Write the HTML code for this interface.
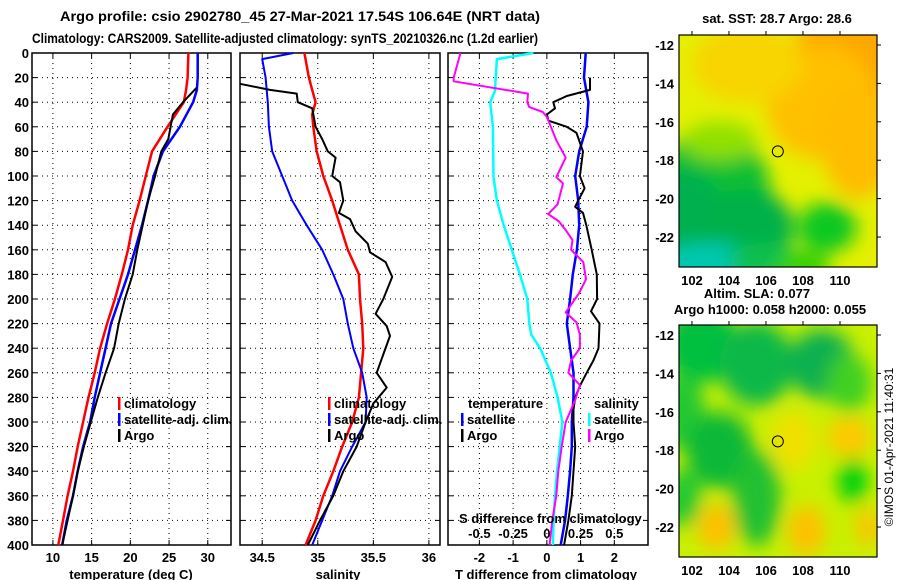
<!DOCTYPE html>
<html><head><meta charset="utf-8"><style>
html,body{margin:0;padding:0;background:#fff;}
svg{display:block;font-family:"Liberation Sans",sans-serif;font-weight:bold;}
</style></head><body>
<svg id="chart" width="900" height="580" viewBox="0 0 900 580" xmlns="http://www.w3.org/2000/svg">
<defs>
<filter id="blur1" x="-50%" y="-50%" width="200%" height="200%"><feGaussianBlur stdDeviation="9"/></filter>
<clipPath id="clipTop"><rect x="679" y="35" width="198" height="232"/></clipPath>
<clipPath id="clipBot"><rect x="679" y="325" width="198" height="232"/></clipPath>
</defs>
<text x="60" y="21" font-size="14" textLength="480" lengthAdjust="spacingAndGlyphs">Argo profile: csio 2902780_45 27-Mar-2021 17.54S 106.64E (NRT data)</text>
<text x="32" y="43" font-size="13.5" textLength="506" lengthAdjust="spacingAndGlyphs">Climatology: CARS2009. Satellite-adjusted climatology: synTS_20210326.nc (1.2d earlier)</text>
<g id="plots"></g>
</svg>
<script>
// ---- data (depth in m) ----
const depthTicks = [0,20,40,60,80,100,120,140,160,180,200,220,240,260,280,300,320,340,360,380,400];
// Temperature panel
const tClimDepth = [0,20,30,40,60,80,100,120,140,160,180,200,220,240,260,280,300,320,340,360,380,400];
const tClimVal   = [27.5,27.4,27.2,26.9,24.8,22.8,22.0,21.2,20.3,19.7,18.9,18.0,17.0,16.1,15.4,14.6,13.9,13.2,12.6,11.9,11.3,10.7];
const tSatDepth  = [0,20,30,40,60,80,100,120,140,160,180,200,220,240,260,280,300,320,340,360,380,400];
const tSatVal    = [28.7,28.7,28.6,28.1,26.4,24.2,23.0,22.3,21.5,20.6,19.7,18.6,17.5,16.8,16.1,15.4,14.8,13.9,13.2,12.6,11.8,11.2];
const tArgoDepth = [28,40,50,60,70,80,100,120,140,160,180,200,220,240,260,280,300,320,340,360,380,400];
const tArgoVal   = [28.6,26.8,25.5,25.2,24.9,24.0,23.2,22.3,21.6,20.9,20.3,19.3,18.5,17.9,16.8,15.8,14.9,14.0,13.2,12.6,11.9,11.2];
const tTicks = [10,15,20,25,30];
// Salinity panel
const sClimDepth = [0,20,30,40,50,60,80,100,120,140,160,180,200,220,240,260,280,300,320,340,360,380,400];
const sClimVal   = [34.88,34.92,34.95,34.98,34.95,34.96,34.99,35.05,35.13,35.20,35.27,35.37,35.38,35.40,35.41,35.39,35.37,35.31,35.22,35.14,35.05,34.98,34.89];
const sSatDepth  = [0,5,20,40,60,80,100,120,140,160,180,200,220,240,260,280,300,320,340,360,380,400];
const sSatVal    = [34.78,34.50,34.53,34.55,34.56,34.59,34.68,34.77,34.90,35.04,35.14,35.23,35.27,35.32,35.40,35.44,35.43,35.31,35.20,35.13,35.04,34.95];
const sArgoDepth = [25,30,33,40,45,60,70,80,85,100,105,120,130,135,145,155,162,170,182,200,212,222,230,245,260,272,285,300,320,340,360,380,400];
const sArgoVal   = [34.30,34.57,34.81,34.82,34.95,34.98,35.04,35.09,35.16,35.13,35.20,35.23,35.19,35.29,35.34,35.45,35.47,35.61,35.67,35.59,35.52,35.62,35.65,35.59,35.53,35.62,35.50,35.43,35.35,35.23,35.14,35.02,34.91];
const sTicks = [34.5,35,35.5,36];
// Difference panel
const dTSatDepth = [0,20,40,60,80,100,120,140,160,180,200,220,240,260,280,300,320,340,360,380,400];
const dTSatVal   = [1.15,1.10,1.23,1.18,0.96,0.84,0.93,0.96,0.89,0.77,0.69,0.59,0.69,0.79,0.79,0.74,0.74,0.69,0.62,0.54,0.41];
const dTArgoDepth= [20,30,35,40,45,50,55,60,65,80,100,110,120,125,130,140,160,180,200,210,220,240,250,260,270,280,290,300,320,340,360,380,400];
const dTArgoVal  = [1.28,1.28,0.59,0.19,0.24,0.0,0.05,0.59,0.88,1.07,0.98,1.12,0.93,0.84,1.07,1.17,1.33,1.48,1.49,1.31,1.56,1.53,1.38,1.18,0.99,0.84,0.79,0.79,0.84,0.79,0.74,0.64,0.51];
const dSSatDepth = [0,5,31,40,60,101,120,140,160,180,200,220,229,240,260,280,300,320,340,360,380,400];
const dSSatVal   = [-0.10,-0.37,-0.385,-0.42,-0.40,-0.395,-0.37,-0.32,-0.26,-0.20,-0.145,-0.13,-0.115,-0.05,0.03,0.08,0.115,0.095,0.075,0.06,0.05,0.045];
const dSArgoDepth= [0,20,23,33,40,44,48,52,60,71,85,101,106,123,131,137,144,152,160,170,184,195,211,219,229,240,250,260,270,282,300,320,340,360,380,400];
const dSArgoVal  = [-0.64,-0.69,-0.69,-0.14,-0.145,-0.13,-0.03,0,0.03,0.07,0.14,0.07,0.12,0.08,0.01,0.09,0.14,0.19,0.18,0.27,0.29,0.24,0.14,0.22,0.245,0.245,0.18,0.16,0.245,0.21,0.14,0.11,0.085,0.07,0.04,0.02];
const dTTicks = [-2,-1,0,1,2];
const dSTicks = [-0.5,-0.25,0,0.25,0.5];
const dSTickLabels = ["-0.5","-0.25","0","0.25","0.5"];
// Maps
const lonTicks = [102,104,106,108,110];
const latTicks = [-12,-14,-16,-18,-20,-22];
const floatLon = 106.64, floatLat = -17.54;

const NS="http://www.w3.org/2000/svg";
const root=document.getElementById('plots');
function el(tag,attrs,parent,txt){const e=document.createElementNS(NS,tag);for(const k in attrs)e.setAttribute(k,attrs[k]);if(txt!==undefined)e.textContent=txt;(parent||root).appendChild(e);return e;}

const Y0=53,Y1=545;
const yDepth=d=>Y0+(d/400)*(Y1-Y0);
function linX(x0,x1,v0,v1){return v=>x0+(v-v0)/(v1-v0)*(x1-x0);}

function panel(name,x0,x1,xs,ticks,labels,showDepth){
  const g=el('g',{});
  
  
  for(const d of depthTicks){ if(d>0&&d<400){const l=el('line',{x1:x0,x2:x1,y1:yDepth(d),y2:yDepth(d),stroke:'#000','stroke-width':1,'stroke-dasharray':'1 4'},g);}
    el('line',{x1:x0,x2:x0+5,y1:yDepth(d),y2:yDepth(d),stroke:'#000'},g);
    el('line',{x1:x1-5,x2:x1,y1:yDepth(d),y2:yDepth(d),stroke:'#000'},g);
    if(showDepth){const t=el('text',{x:x0-3,y:yDepth(d)+5,'font-size':13,'text-anchor':'end'},g,String(d));}
  }
  ticks.forEach((v,i)=>{const x=xs(v);
    const l=el('line',{x1:x,x2:x,y1:Y0,y2:Y1,stroke:'#000','stroke-dasharray':'1 4'},g);
    
    
    el('line',{x1:x,x2:x,y1:Y1,y2:Y1-5,stroke:'#000'},g);el('line',{x1:x,x2:x,y1:Y0,y2:Y0+5,stroke:'#000'},g);
    const t=el('text',{x:x,y:562,'font-size':13,'text-anchor':'middle'},g,labels[i]);
    
    
  });
  const f=el('rect',{x:x0,y:Y0,width:x1-x0,height:Y1-Y0,fill:'none',stroke:'#000','stroke-width':1.5},g);
  
  
  return g;
}
function series(g,name,depths,vals,xs,color,w){
  const pts=depths.map((d,i)=>xs(vals[i]).toFixed(1)+','+yDepth(d).toFixed(1)).join(' ');
  const p=el('polyline',{points:pts,fill:'none',stroke:color,'stroke-width':w,'stroke-linejoin':'round'},g);
  
  
}
function legend(g,x,y,items){
  items.forEach((it,i)=>{
    const r=el('rect',{x:x,y:y+i*16-11,width:2.5,height:13,fill:it[1]},g);
    
    
    const t=el('text',{x:x+6,y:y+i*16,'font-size':13},g,it[0]);
    
    
  });
}
// Panel 1
const xT=linX(32,231,7.3,33.0);
const g1=panel('temperature-panel',32,231,xT,tTicks,tTicks.map(String),true);
series(g1,'temp-climatology-line',tClimDepth,tClimVal,xT,'#f00',2.5);
series(g1,'temp-satellite-line',tSatDepth,tSatVal,xT,'#00f',2.5);
series(g1,'temp-argo-line',tArgoDepth,tArgoVal,xT,'#000',2);
legend(g1,118,408,[['climatology','#f00'],['satellite-adj. clim.','#00f'],['Argo','#000']]);
let at=el('text',{x:131,y:579,'font-size':13,'text-anchor':'middle'},g1,'temperature (deg C)');


// Panel 2
const xS=linX(240,440,34.30,36.10);
const g2=panel('salinity-panel',240,440,xS,sTicks,['34.5','35','35.5','36'],false);
series(g2,'sal-climatology-line',sClimDepth,sClimVal,xS,'#f00',2.5);
series(g2,'sal-satellite-line',sSatDepth,sSatVal,xS,'#00f',2);
series(g2,'sal-argo-line',sArgoDepth,sArgoVal,xS,'#000',2);
legend(g2,328,408,[['climatology','#f00'],['satellite-adj. clim.','#00f'],['Argo','#000']]);
at=el('text',{x:338,y:579,'font-size':13,'text-anchor':'middle'},g2,'salinity');


// Panel 3
const xD=linX(448,648,-2.93,2.998);
const xDS=v=>xD(v*4);
const g3=panel('difference-panel',448,648,xD,dTTicks,dTTicks.map(String),false);
series(g3,'sal-satellite-diff-line',dSSatDepth,dSSatVal,xDS,'#0ff',2.5);
series(g3,'temp-satellite-diff-line',dTSatDepth,dTSatVal,xD,'#00f',2.5);
series(g3,'temp-argo-diff-line',dTArgoDepth,dTArgoVal,xD,'#000',2);
series(g3,'sal-argo-diff-line',dSArgoDepth,dSArgoVal,xDS,'#f0f',2);
let tt=el('text',{x:468,y:408,'font-size':13},g3,'temperature');


legend(g3,461,424,[['satellite','#00f'],['Argo','#000']]);
tt=el('text',{x:594,y:408,'font-size':13},g3,'salinity');


legend(g3,588,424,[['satellite','#0ff'],['Argo','#f0f']]);
tt=el('text',{x:459,y:523,'font-size':13},g3,'S difference from climatology');


dSTicks.forEach((v,i)=>{const t=el('text',{x:xDS(v),y:538,'font-size':13,'text-anchor':'middle'},g3,dSTickLabels[i]);
  
  });
at=el('text',{x:546,y:579,'font-size':13,'text-anchor':'middle'},g3,'T difference from climatology');



// Maps
const lonX=linX(679,877,101.3,112.0);
function mapPanel(name,top,clip,blobs,base,title,titleY){
  const g=el('g',{});
  
  
  const latY=linX(top,top+232,-11.48,-23.56);
  const c=el('g',{'clip-path':'url(#'+clip+')'},g);
  el('rect',{x:679,y:top,width:198,height:232,fill:base},c);
  const bg=el('g',{filter:'url(#blur1)'},c);
  blobs.forEach(b=>{const e=el('ellipse',{cx:lonX(b[0]),cy:latY(b[1]),rx:b[2]*18.5,ry:b[3]*19.2,fill:b[4]},bg);
    
    });
  const fr=el('rect',{x:679,y:top,width:198,height:232,fill:'none',stroke:'#000','stroke-width':1.2},g);
  
  
  lonTicks.forEach(v=>{const x=lonX(v);el('line',{x1:x,x2:x,y1:top,y2:top-4,stroke:'#000'},g);
    const t=el('text',{x:x,y:top+250,'font-size':13,'text-anchor':'middle'},g,String(v));
    
    });
  latTicks.forEach(v=>{const y=latY(v);el('line',{x1:877,x2:881,y1:y,y2:y,stroke:'#000'},g);
    const t=el('text',{x:674,y:y+5,'font-size':13,'text-anchor':'end'},g,String(v));
    
    });
  const m=el('circle',{cx:lonX(floatLon),cy:latY(floatLat),r:5.5,fill:'none',stroke:'#000','stroke-width':1},g);
  
  
  title.forEach((s,i)=>{const t=el('text',{x:s[1],y:titleY[i],'font-size':13,'text-anchor':'middle'},g,s[0]);
    
    });
  return g;
}
mapPanel('sst-map',35,'clipTop',[
  [111,-12.5,3.5,2.5,'#ffa800'],[109,-15,3,3,'#ffc000'],[111,-17,2,3,'#ffbc00'],[105,-13,3,2,'#f8d400'],
  [103,-19.5,3.2,3,'#10c030'],[101.5,-21.5,2.5,3,'#00b050'],[105,-21.5,2.5,2,'#00b048'],[103,-23.5,3,1.2,'#00c8b0'],
  [109.3,-21.5,1.6,1.3,'#10c820'],[106,-23.3,2,1,'#10c050'],[103.5,-17,2,1,'#90e000'],[108,-23.5,1.5,0.8,'#30d000']
],'#e4f000',[['sat. SST: 28.7 Argo: 28.6',777]],[23]);
mapPanel('sla-map',325,'clipBot',[
  [102.5,-12.5,2,2,'#00c040'],[105.5,-13.5,2,2.2,'#10b848'],[109,-13.5,1.8,1.8,'#10b050'],[101.5,-16,1.2,2,'#20c830'],
  [103.5,-18,1.8,2,'#10b838'],[105.5,-20.5,1.3,2.5,'#20c030'],[101.5,-20.5,1,1.5,'#20c830'],[110.7,-19.6,0.8,1.2,'#00d010'],
  [110.5,-17.3,1.2,1,'#ffc800'],[103.3,-22,1,1.2,'#ffc000'],[108.2,-22.2,1,1.3,'#ffc000'],[111.5,-22,0.6,1,'#ffc000'],
  [107.5,-17.5,1.2,1.5,'#f0e000'],[110.5,-14.5,1.2,1.5,'#40d020']
],'#c8f000',[['Altim. SLA: 0.077',757],['Argo h1000: 0.058 h2000: 0.055',770]],[298,314]);
const cr=el('text',{x:0,y:0,'font-size':12,'font-weight':'normal','text-anchor':'middle',transform:'translate(893,447) rotate(-90)'});


cr.textContent='©IMOS 01-Apr-2021 11:40:31';
</script>
</body></html>
